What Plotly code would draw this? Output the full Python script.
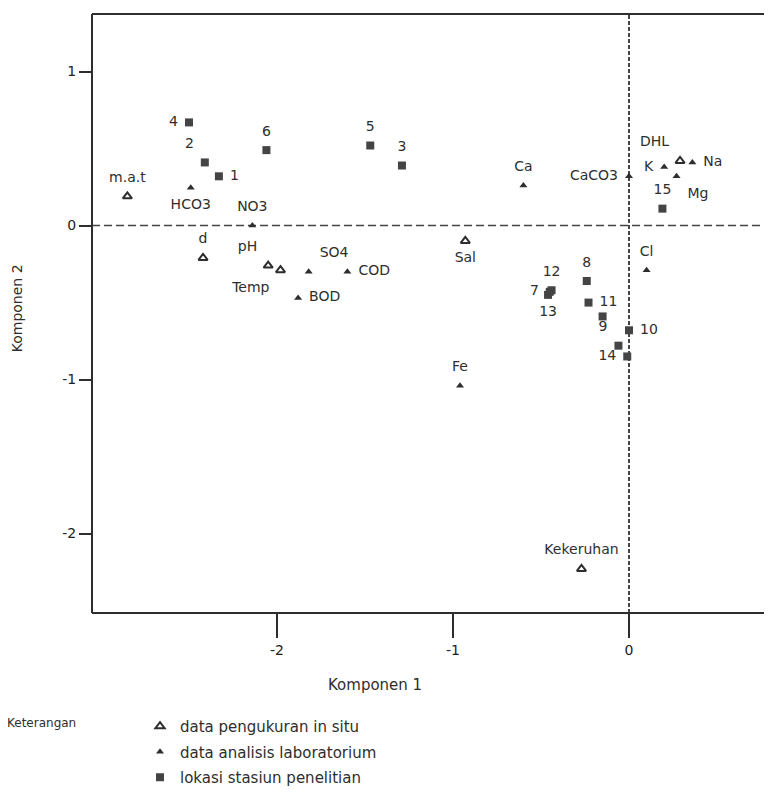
import plotly.graph_objects as go

# ---- data ----
insitu_names = ["m.a.t", "d", "pH", "Temp", "Sal", "DHL", "Kekeruhan"]
insitu_x = [-2.85, -2.42, -2.05, -1.98, -0.93, 0.29, -0.27]
insitu_y = [0.19, -0.21, -0.26, -0.29, -0.10, 0.42, -2.23]
insitu_pos = ["top center", "top center", "top left", "bottom left", "bottom center", "top left", "top center"]

lab_names = ["HCO3", "NO3", "SO4", "COD", "BOD", "Ca", "CaCO3", "K", "Na", "Mg", "Cl", "Fe"]
lab_x = [-2.49, -2.14, -1.82, -1.60, -1.88, -0.60, 0.00, 0.20, 0.36, 0.27, 0.10, -0.96]
lab_y = [0.245, 0.00, -0.30, -0.30, -0.47, 0.26, 0.32, 0.38, 0.41, 0.32, -0.29, -1.04]
lab_pos = ["bottom center", "top center", "top right", "middle right", "middle right", "top center",
           "middle left", "middle left", "middle right", "bottom right", "top center", "top center"]

st_names = ["1", "2", "3", "4", "5", "6", "7", "8", "9", "10", "11", "12", "13", "14", "15", ""]
st_x = [-2.33, -2.41, -1.29, -2.50, -1.47, -2.06, -0.45, -0.24, -0.06, 0.00, -0.23, -0.44, -0.46, -0.01, 0.19, -0.15]
st_y = [0.32, 0.41, 0.39, 0.67, 0.52, 0.49, -0.43, -0.36, -0.78, -0.68, -0.50, -0.42, -0.45, -0.85, 0.11, -0.59]
st_pos = ["middle right", "top left", "top center", "middle left", "top center", "top center", "middle left",
          "top center", "top left", "middle right", "middle right", "top center", "bottom center",
          "middle left", "top center", "top center"]

x_ticks = [-2, -1, 0]
x_ticktext = ["-2", "-1", "0"]
y_ticks = [1, 0, -1, -2]
y_ticktext = ["1", "0", "-1", "-2"]

INK = "#2e2e2e"
FONT = "DejaVu Sans, Arial, sans-serif"

fig = go.Figure()

# marker traces (legend)
fig.add_trace(go.Scatter(x=insitu_x, y=insitu_y, mode="markers", name="data pengukuran in situ",
                         legendgroup="a",
                         marker=dict(symbol="triangle-up-open", size=8, color=INK, line=dict(width=2, color=INK))))
fig.add_trace(go.Scatter(x=lab_x, y=lab_y, mode="markers", name="data analisis laboratorium",
                         legendgroup="b",
                         marker=dict(symbol="triangle-up", size=7, color=INK)))
fig.add_trace(go.Scatter(x=st_x, y=st_y, mode="markers", name="lokasi stasiun penelitian",
                         legendgroup="c",
                         marker=dict(symbol="square", size=8, color="#444444")))

# label traces (invisible markers give the text its offset)
for xs, ys, names, pos in [(insitu_x, insitu_y, insitu_names, insitu_pos),
                           (lab_x, lab_y, lab_names, lab_pos),
                           (st_x, st_y, st_names, st_pos)]:
    fig.add_trace(go.Scatter(x=xs, y=ys, mode="markers+text", text=names, textposition=pos,
                             marker=dict(size=16, opacity=0),
                             textfont=dict(family=FONT, size=14, color=INK),
                             showlegend=False, hoverinfo="skip"))

# dashed zero lines
fig.add_shape(type="line", xref="paper", yref="y", x0=0, x1=1, y0=0, y1=0,
              line=dict(color="#444444", width=1.5, dash="8px,4px"), layer="below")
fig.add_shape(type="line", xref="x", yref="paper", x0=0, x1=0, y0=0, y1=1,
              line=dict(color="#444444", width=2, dash="4px,2px"), layer="below")
# frame: left, bottom, top (right side is cut off in the reference)
for x0, y0, x1, y1 in [(0, 0, 0, 1), (0, 0, 1, 0), (0, 1, 1, 1)]:
    fig.add_shape(type="line", xref="paper", yref="paper", x0=x0, y0=y0, x1=x1, y1=y1,
                  line=dict(color=INK, width=2))

fig.update_layout(
    width=756, height=786,
    margin=dict(l=84, r=0, t=6, b=177),
    paper_bgcolor="white", plot_bgcolor="white",
    font=dict(family=FONT, color=INK),
    xaxis=dict(range=[-3.051, 0.767], tickvals=x_ticks, ticktext=x_ticktext, showgrid=False, zeroline=False,
               showline=False, ticks="outside", ticklen=24, tickwidth=2, tickcolor=INK,
               tickfont=dict(size=14, color="#222222")),
    yaxis=dict(range=[-2.516, 1.374], tickvals=y_ticks, ticktext=y_ticktext, showgrid=False, zeroline=False,
               showline=False, ticks="outside", ticklen=12, tickwidth=2, tickcolor=INK,
               tickfont=dict(size=14, color="#222222")),
    showlegend=True,
    legend=dict(x=0.0706 * 680 / 672, xanchor="left", y=-0.1625, yanchor="top",
                font=dict(size=15, color=INK, family=FONT),
                traceorder="grouped", tracegroupgap=3, bgcolor="rgba(0,0,0,0)"),
    annotations=[
        dict(text="Komponen 2", xref="paper", yref="paper", x=-0.110 * 680 / 672, y=0.509, textangle=-90,
             xanchor="center", yanchor="middle",
             showarrow=False, font=dict(size=14, color=INK, family=FONT)),
        dict(text="Komponen 1", xref="paper", yref="paper", x=(375 - 92) / 672, y=-0.121,
             xanchor="center", yanchor="middle",
             showarrow=False, font=dict(size=15, color=INK, family=FONT)),
        dict(text="Keterangan", xref="paper", yref="paper", x=(5 - 92) / 672, y=-0.183,
             xanchor="left", yanchor="middle",
             showarrow=False, font=dict(size=12, color=INK, family=FONT)),
    ],
)

fig.write_html("out.html")
